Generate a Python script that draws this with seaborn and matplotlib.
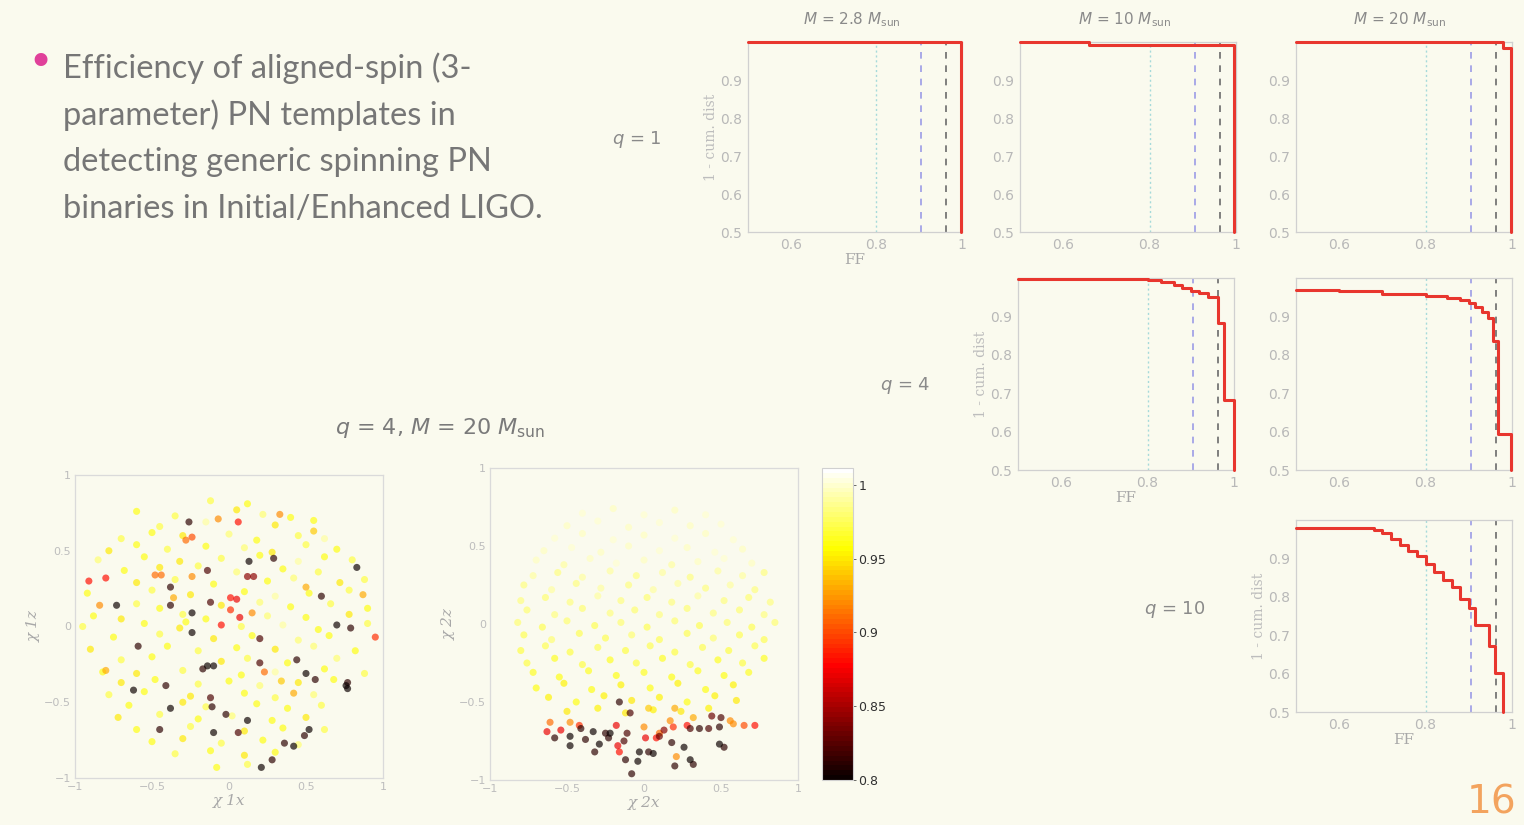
import numpy as np
import pandas as pd
import matplotlib
matplotlib.use("Agg")
import matplotlib.pyplot as plt
import seaborn as sns
from matplotlib.colors import Normalize
from matplotlib.cm import ScalarMappable

# ------------------------------------------------------------------ data
bullet_lines = ["Efficiency of aligned-spin (3-",
                "parameter) PN templates in",
                "detecting generic spinning PN",
                "binaries in Initial/Enhanced LIGO."]
mass_titles = [r"$M$ = 2.8 $M_{\mathrm{sun}}$", r"$M$ = 10 $M_{\mathrm{sun}}$", r"$M$ = 20 $M_{\mathrm{sun}}$"]
q_labels = [r"$q$ = 1", r"$q$ = 4", r"$q$ = 10"]
scatter_title = r"$q$ = 4, $M$ = 20 $M_{\mathrm{sun}}$"

ff_ticks = [0.6, 0.8, 1.0]
ff_tick_labels = ["0.6", "0.8", "1"]
cd_ticks = [0.5, 0.6, 0.7, 0.8, 0.9]
cd_tick_labels = ["0.5", "0.6", "0.7", "0.8", "0.9"]
ref_ff = [0.8, 0.905, 0.962]

# FF vs 1 - cumulative distribution (step curves)
ff_q1_m28 = [0.5, 0.997, 0.997]
cd_q1_m28 = [1.0, 0.5, 0.5]
ff_q1_m10 = [0.5, 0.66, 0.996, 0.996]
cd_q1_m10 = [1.0, 0.993, 0.5, 0.5]
ff_q1_m20 = [0.5, 0.979, 0.998, 0.998]
cd_q1_m20 = [1.0, 0.985, 0.5, 0.5]
ff_q4_m10 = [0.5, 0.80, 0.83, 0.86, 0.88, 0.90, 0.92, 0.94, 0.962, 0.978, 0.999, 0.999]
cd_q4_m10 = [0.998, 0.995, 0.99, 0.983, 0.975, 0.967, 0.96, 0.95, 0.883, 0.683, 0.5, 0.5]
ff_q4_m20 = [0.5, 0.6, 0.7, 0.8, 0.85, 0.88, 0.9, 0.915, 0.93, 0.945, 0.955, 0.968, 0.997, 0.997]
cd_q4_m20 = [0.97, 0.965, 0.958, 0.952, 0.947, 0.942, 0.935, 0.925, 0.912, 0.895, 0.835, 0.595, 0.5, 0.5]
ff_q10_m20 = [0.5, 0.68, 0.70, 0.72, 0.74, 0.76, 0.78, 0.80, 0.82, 0.84, 0.86, 0.88, 0.90, 0.915,
              0.946, 0.96, 0.98, 0.98]
cd_q10_m20 = [0.98, 0.975, 0.965, 0.95, 0.935, 0.92, 0.905, 0.885, 0.865, 0.845, 0.825, 0.795, 0.77,
              0.727, 0.671, 0.602, 0.5, 0.5]

# left scatter: chi_1x vs chi_1z, coloured by FF
left_yel_x = [-0.12, 0.12,
              -0.60, -0.35, 0.05, 0.22, 0.40,
              -0.45, -0.15, 0.30, 0.55,
              -0.70, -0.50, -0.30, 0.00, 0.18, 0.45, 0.62,
              -0.78, -0.60, -0.40, -0.15, 0.10, 0.28, 0.50, 0.70,
              -0.85, -0.55, -0.32, -0.05, 0.20, 0.45, 0.62, 0.80,
              -0.68, -0.45, -0.20, 0.05, 0.35, 0.58,
              -0.60, -0.35, -0.10, 0.25, 0.42, 0.72, 0.88,
              -0.92, -0.50, -0.25, 0.10, 0.30, 0.52, 0.78,
              -0.60, -0.45, -0.05, 0.20, 0.40, 0.66, 0.90,
              -0.88, -0.70, -0.30, -0.15, 0.25, 0.50, 0.78,
              -0.95, -0.55, -0.32, -0.28, 0.08, 0.35, 0.58, 0.90,
              -0.75, -0.45, -0.10, 0.15, 0.45, 0.65,
              -0.90, -0.40, -0.20, 0.05, 0.30, 0.55, 0.82,
              -0.70, -0.50, -0.05, 0.12, 0.38, 0.70,
              -0.82, -0.60, -0.30, 0.08, 0.30, 0.62, 0.88,
              -0.70, -0.48, -0.20, 0.00, 0.20, 0.45, 0.68,
              -0.78, -0.55, -0.25, 0.10, 0.30, 0.55,
              -0.65, -0.30, -0.15, 0.18, 0.38, 0.60,
              -0.72, -0.45, -0.20, 0.02, 0.28, 0.50,
              -0.60, -0.25, 0.10, 0.35, 0.62,
              -0.50, -0.30, -0.05, 0.22, 0.45,
              -0.35, -0.12, 0.10, 0.30,
              -0.08, 0.12]
left_yel_y = [0.83, 0.81,
              0.76, 0.73, 0.77, 0.74, 0.72,
              0.66, 0.69, 0.67, 0.70,
              0.58, 0.62, 0.60, 0.61, 0.57, 0.60, 0.58,
              0.50, 0.54, 0.51, 0.53, 0.52, 0.49, 0.54, 0.51,
              0.44, 0.46, 0.43, 0.45, 0.47, 0.43, 0.46, 0.44,
              0.37, 0.39, 0.40, 0.36, 0.38, 0.36,
              0.29, 0.31, 0.28, 0.30, 0.32, 0.29, 0.31,
              0.22, 0.24, 0.21, 0.23, 0.20, 0.22, 0.24,
              0.15, 0.12, 0.14, 0.16, 0.13, 0.15, 0.12,
              0.07, 0.05, 0.08, 0.05, 0.07, 0.06, 0.08,
              0.00, 0.02, -0.01, 0.03, 0.00, 0.01, -0.02, 0.02,
              -0.07, -0.05, -0.08, -0.06, -0.09, -0.06,
              -0.15, -0.13, -0.16, -0.14, -0.15, -0.13, -0.16,
              -0.22, -0.20, -0.23, -0.21, -0.24, -0.21,
              -0.30, -0.31, -0.29, -0.32, -0.30, -0.28, -0.31,
              -0.37, -0.35, -0.38, -0.36, -0.39, -0.37, -0.35,
              -0.45, -0.43, -0.46, -0.44, -0.47, -0.45,
              -0.52, -0.50, -0.53, -0.51, -0.54, -0.52,
              -0.60, -0.58, -0.61, -0.59, -0.62, -0.60,
              -0.68, -0.66, -0.69, -0.67, -0.68,
              -0.76, -0.74, -0.77, -0.75, -0.78,
              -0.84, -0.82, -0.85, -0.83,
              -0.93, -0.91]
left_yel_v = [0.97, 0.96,
              0.96, 0.97, 0.95, 0.98, 0.96,
              0.97, 0.99, 0.95, 0.96,
              0.97, 0.96, 0.95, 0.98, 0.96, 0.97, 0.99,
              0.95, 0.96, 0.97, 0.96, 0.98, 0.95, 0.97, 0.96,
              0.98, 0.96, 0.95, 0.97, 0.96, 0.99, 0.96, 0.97,
              0.96, 0.95, 0.97, 0.98, 0.96, 0.97,
              0.95, 0.97, 0.96, 0.96, 0.98, 0.95, 0.97,
              0.96, 0.97, 0.95, 0.96, 0.99, 0.96, 0.97,
              0.97, 0.96, 0.95, 0.98, 0.96, 0.97, 0.96,
              0.96, 0.95, 0.97, 0.96, 0.98, 0.96, 0.95,
              0.97, 0.96, 0.95, 0.96, 0.97, 0.99, 0.96, 0.97,
              0.96, 0.97, 0.95, 0.96, 0.98, 0.96,
              0.95, 0.96, 0.97, 0.96, 0.95, 0.98, 0.96,
              0.97, 0.96, 0.95, 0.97, 0.96, 0.98,
              0.96, 0.95, 0.97, 0.96, 0.99, 0.96, 0.97,
              0.95, 0.96, 0.97, 0.96, 0.98, 0.95, 0.96,
              0.97, 0.96, 0.95, 0.96, 0.97, 0.98,
              0.96, 0.95, 0.97, 0.96, 0.96, 0.97,
              0.95, 0.97, 0.96, 0.98, 0.96, 0.95,
              0.96, 0.97, 0.95, 0.96, 0.97,
              0.96, 0.95, 0.97, 0.96, 0.98,
              0.97, 0.96, 0.95, 0.96,
              0.96, 0.97]
left_red_x = [-0.91, -0.80, -0.48, -0.44, -0.84, -0.28, -0.24, -0.07, 0.06, 0.33, 0.01, 0.05, 0.01,
              0.07, 0.15, -0.05, 0.95, 0.87, 0.50, 0.23, -0.80, 0.42, 0.34, 0.55, -0.36, -0.24]
left_red_y = [0.30, 0.32, 0.34, 0.34, 0.14, 0.57, 0.59, 0.71, 0.69, 0.74, 0.19, 0.18, 0.11,
              0.06, 0.09, 0.01, -0.07, 0.21, 0.26, -0.30, -0.29, -0.44, -0.36, 0.63, 0.19, 0.33]
left_red_v = [0.88, 0.88, 0.91, 0.91, 0.92, 0.91, 0.90, 0.92, 0.88, 0.92, 0.88, 0.87, 0.89,
              0.87, 0.92, 0.88, 0.89, 0.93, 0.93, 0.91, 0.93, 0.93, 0.94, 0.94, 0.93, 0.92]
left_dark_x = [-0.26, 0.13, 0.29, 0.83, -0.14, -0.38, -0.73, -0.38, -0.12, -0.24, 0.60, 0.70, 0.79,
               -0.24, 0.20, -0.59, -0.14, -0.17, -0.10, 0.20, 0.44, 0.50, 0.56, 0.76, 0.77, 0.77,
               -0.41, -0.62, -0.12, -0.11, -0.38, -0.02, 0.12, -0.45, -0.10, 0.06, 0.49, 0.52,
               0.36, 0.42, 0.28, 0.21, 0.12, 0.16]
left_dark_y = [0.69, 0.43, 0.45, 0.39, 0.37, 0.26, 0.14, 0.14, 0.16, 0.09, 0.20, 0.01, -0.01,
               -0.04, -0.08, -0.13, -0.26, -0.28, -0.26, -0.24, -0.22, -0.31, -0.35, -0.39, -0.37,
               -0.41, -0.39, -0.42, -0.47, -0.53, -0.54, -0.58, -0.62, -0.68, -0.70, -0.70, -0.72,
               -0.68, -0.77, -0.79, -0.88, -0.93, 0.33, 0.33]
left_dark_v = [0.81, 0.80, 0.81, 0.80, 0.82, 0.81, 0.80, 0.81, 0.82, 0.80, 0.81, 0.80, 0.81,
               0.80, 0.82, 0.81, 0.80, 0.81, 0.80, 0.82, 0.81, 0.80, 0.81, 0.80, 0.81, 0.80,
               0.81, 0.80, 0.82, 0.81, 0.80, 0.81, 0.80, 0.81, 0.80, 0.82, 0.81, 0.80,
               0.81, 0.80, 0.81, 0.80, 0.84, 0.84]

# right scatter: chi_2x vs chi_2z, coloured by FF
right_yel_x = [-0.40, -0.20, 0.00, 0.20, 0.40,
               -0.50, -0.30, -0.10, 0.10, 0.30, 0.50,
               -0.58, -0.40, -0.20, 0.00, 0.20, 0.40, 0.58,
               -0.65, -0.47, -0.28, -0.10, 0.10, 0.28, 0.46, 0.64,
               -0.70, -0.52, -0.35, -0.18, 0.00, 0.18, 0.35, 0.52, 0.70,
               -0.72, -0.56, -0.40, -0.22, -0.05, 0.12, 0.30, 0.48, 0.64, 0.78,
               -0.78, -0.60, -0.44, -0.28, -0.10, 0.06, 0.22, 0.40, 0.56, 0.72,
               -0.80, -0.64, -0.48, -0.30, -0.15, 0.02, 0.18, 0.35, 0.52, 0.68, 0.82,
               -0.76, -0.58, -0.40, -0.22, -0.06, 0.10, 0.28, 0.45, 0.62, 0.78,
               -0.82, -0.66, -0.50, -0.32, -0.15, 0.02, 0.20, 0.36, 0.54, 0.70, 0.85,
               -0.78, -0.60, -0.42, -0.25, -0.08, 0.10, 0.28, 0.45, 0.62, 0.78,
               -0.80, -0.64, -0.48, -0.30, -0.12, 0.04, 0.20, 0.38, 0.55, 0.72,
               -0.76, -0.58, -0.40, -0.22, -0.05, 0.12, 0.30, 0.48, 0.64, 0.78,
               -0.72, -0.55, -0.36, -0.18, 0.00, 0.18, 0.35, 0.52, 0.68,
               -0.70, -0.52, -0.34, -0.15, 0.04, 0.22, 0.40, 0.58,
               -0.62, -0.44, -0.26, -0.08, 0.10, 0.28, 0.46, 0.60,
               -0.50, -0.30, -0.12, 0.06, 0.24, 0.42]
right_yel_y = [0.71, 0.74, 0.70, 0.73, 0.70,
               0.63, 0.66, 0.62, 0.65, 0.63, 0.64,
               0.55, 0.58, 0.54, 0.57, 0.55, 0.58, 0.54,
               0.47, 0.49, 0.46, 0.50, 0.47, 0.49, 0.46, 0.48,
               0.41, 0.38, 0.42, 0.39, 0.41, 0.38, 0.40, 0.42, 0.39,
               0.31, 0.33, 0.30, 0.34, 0.31, 0.33, 0.30, 0.34, 0.31, 0.33,
               0.25, 0.22, 0.26, 0.23, 0.25, 0.22, 0.26, 0.23, 0.25, 0.22,
               0.15, 0.17, 0.14, 0.18, 0.15, 0.17, 0.14, 0.18, 0.15, 0.17, 0.14,
               0.09, 0.06, 0.10, 0.07, 0.09, 0.06, 0.10, 0.07, 0.09, 0.06,
               0.01, -0.02, 0.02, -0.01, 0.01, -0.02, 0.02, -0.01, 0.01, -0.02, 0.01,
               -0.07, -0.10, -0.06, -0.09, -0.07, -0.10, -0.06, -0.09, -0.07, -0.10,
               -0.17, -0.14, -0.18, -0.15, -0.17, -0.14, -0.18, -0.15, -0.17, -0.14,
               -0.25, -0.22, -0.26, -0.23, -0.25, -0.22, -0.26, -0.23, -0.25, -0.22,
               -0.31, -0.34, -0.30, -0.33, -0.31, -0.34, -0.30, -0.33, -0.31,
               -0.41, -0.38, -0.42, -0.39, -0.41, -0.38, -0.42, -0.39,
               -0.47, -0.50, -0.46, -0.49, -0.47, -0.50, -0.46, -0.49,
               -0.56, -0.54, -0.57, -0.55, -0.56, -0.54]
right_yel_v = [1.000, 0.995, 1.000, 0.995, 1.000,
               0.995, 1.000, 0.995, 1.000, 0.995, 1.000,
               1.000, 0.995, 1.000, 0.995, 1.000, 0.995, 1.000,
               0.995, 1.000, 0.995, 0.995, 1.000, 0.995, 1.000, 0.995,
               0.995, 0.990, 0.995, 1.000, 0.995, 0.990, 0.995, 1.000, 0.995,
               0.990, 0.985, 0.990, 0.990, 0.985, 0.990, 0.985, 0.990, 0.990, 0.985,
               0.985, 0.990, 0.985, 0.990, 0.985, 0.990, 0.990, 0.985, 0.990, 0.985,
               0.985, 0.980, 0.985, 0.990, 0.985, 0.980, 0.985, 0.990, 0.985, 0.980, 0.985,
               0.980, 0.985, 0.980, 0.985, 0.980, 0.985, 0.980, 0.985, 0.980, 0.985,
               0.980, 0.975, 0.980, 0.975, 0.980, 0.975, 0.980, 0.975, 0.980, 0.975, 0.980,
               0.975, 0.980, 0.975, 0.975, 0.980, 0.975, 0.975, 0.980, 0.975, 0.975,
               0.970, 0.975, 0.970, 0.975, 0.970, 0.975, 0.970, 0.975, 0.970, 0.975,
               0.970, 0.965, 0.970, 0.965, 0.970, 0.965, 0.970, 0.965, 0.970, 0.965,
               0.965, 0.960, 0.965, 0.960, 0.965, 0.960, 0.965, 0.960, 0.965,
               0.960, 0.955, 0.960, 0.955, 0.960, 0.955, 0.960, 0.955,
               0.955, 0.960, 0.955, 0.950, 0.955, 0.960, 0.955, 0.950,
               0.950, 0.955, 0.950, 0.955, 0.950, 0.955]
right_red_x = [-0.63, -0.54, -0.61, -0.42, -0.18, 0.00, 0.01, 0.08, 0.10, 0.19, 0.28, 0.56, 0.58,
               0.65, 0.72, 0.17, 0.32, -0.17, -0.48, 0.03, 0.20, 0.21, -0.16]
right_red_y = [-0.69, -0.68, -0.63, -0.65, -0.65, -0.66, -0.73, -0.73, -0.70, -0.66, -0.65, -0.62,
               -0.64, -0.65, -0.65, -0.62, -0.60, -0.78, -0.63, -0.54, -0.54, -0.85, -0.82]
right_red_v = [0.87, 0.87, 0.91, 0.89, 0.87, 0.92, 0.87, 0.88, 0.91, 0.89, 0.88, 0.92, 0.92,
               0.90, 0.88, 0.92, 0.93, 0.87, 0.92, 0.94, 0.93, 0.92, 0.88]
right_dark_x = [-0.16, -0.09, -0.41, -0.33, -0.25, -0.22, -0.11, -0.58, -0.48, -0.38, -0.29, -0.23,
                -0.48, -0.13, -0.32, -0.03, 0.03, 0.06, -0.12, -0.04, -0.08, 0.10, 0.18, 0.26,
                0.20, 0.30, 0.32, 0.49, 0.52, 0.30, 0.36, 0.42, 0.49, 0.44, 0.50, 0.13]
right_dark_y = [-0.50, -0.57, -0.67, -0.69, -0.70, -0.70, -0.70, -0.73, -0.72, -0.74, -0.77, -0.73,
                -0.78, -0.75, -0.82, -0.82, -0.82, -0.83, -0.87, -0.88, -0.96, -0.72, -0.76, -0.79,
                -0.91, -0.87, -0.90, -0.77, -0.79, -0.67, -0.67, -0.67, -0.66, -0.59, -0.60, -0.68]
right_dark_v = [0.81, 0.82, 0.81, 0.80, 0.81, 0.80, 0.82, 0.81, 0.80, 0.81, 0.80, 0.81,
                0.80, 0.82, 0.81, 0.80, 0.81, 0.80, 0.81, 0.80, 0.81, 0.83, 0.81, 0.80,
                0.81, 0.80, 0.81, 0.80, 0.81, 0.82, 0.81, 0.82, 0.81, 0.83, 0.82, 0.84]

spin_ticks = [-1, -0.5, 0, 0.5, 1]
spin_tick_labels = ["\u22121", "\u22120.5", "0", "0.5", "1"]
cbar_ticks = [0.8, 0.85, 0.9, 0.95, 1.0]
cbar_tick_labels = ["0.8", "0.85", "0.9", "0.95", "1"]
ff_range = (0.8, 1.0115)

# ------------------------------------------------------------------ style
BG = "#FAFAEE"
sns.set_theme(style="white", rc={"figure.facecolor": BG, "axes.facecolor": BG,
                                 "savefig.facecolor": BG})
plt.rcParams["font.family"] = ["DejaVu Sans"]
plt.rcParams["mathtext.fontset"] = "dejavusans"

W, H = 1524, 825
fig = plt.figure(figsize=(W / 100, H / 100), dpi=100)


def add_ax(l, t, r, b):
    return fig.add_axes([l / W, 1 - b / H, (r - l) / W, (b - t) / H])


SPINE = "#D0D0D0"
TICKC = "#B8B8B8"
RED = "#E8362E"
SERIF = ["DejaVu Serif"]

# ------------------------------------------------------------------ text
fig.text(40 / W, 1 - 64 / H, "\u2022", color="#E0409A", fontsize=32, ha="center", va="center")
for i, line in enumerate(bullet_lines):
    fig.text(63 / W, 1 - (68 + 47 * i) / H, line, color="#767676", fontsize=23.5,
             family=["Lato", "DejaVu Sans"], ha="left", va="center")

for xc, t in zip([852, 1125, 1400], mass_titles):
    fig.text(xc / W, 1 - 20 / H, t, color="#8A8A8A", fontsize=11, ha="center", va="center")
for (xc, yc), t in zip([(637, 140), (905, 385), (1175, 610)], q_labels):
    fig.text(xc / W, 1 - yc / H, t, color="#8A8A8A", fontsize=13, ha="center", va="center")
fig.text(440 / W, 1 - 428 / H, scatter_title, color="#7A7A7A", fontsize=16, ha="center", va="center")
fig.text(1492 / W, 1 - 803 / H, "16", color="#F3A35E", fontsize=28, ha="center", va="center")

# ------------------------------------------------------------------ CDF panels
panels = [
    ((748, 42, 962, 232), ff_q1_m28, cd_q1_m28, True, True),
    ((1020, 42, 1236, 232), ff_q1_m10, cd_q1_m10, False, False),
    ((1296, 42, 1512, 232), ff_q1_m20, cd_q1_m20, False, False),
    ((1018, 278, 1234, 470), ff_q4_m10, cd_q4_m10, True, True),
    ((1296, 278, 1512, 470), ff_q4_m20, cd_q4_m20, False, False),
    ((1296, 520, 1512, 712), ff_q10_m20, cd_q10_m20, True, True),
]
for box, ff, cd, ylab, xlab in panels:
    ax = add_ax(*box)
    ax.set_facecolor("none")
    ax.axvline(ref_ff[0], color="#A6DADA", ls=(0, (1.5, 2)), lw=1.0, zorder=1)
    ax.axvline(ref_ff[1], color="#9C9CE6", ls=(0, (4, 4)), lw=1.2, zorder=1)
    ax.axvline(ref_ff[2], color="#6A6A6A", ls=(0, (4, 4)), lw=1.2, zorder=1)
    df = pd.DataFrame({"FF": ff, "cd": cd})
    sns.lineplot(data=df, x="FF", y="cd", ax=ax, estimator=None, sort=False,
                 drawstyle="steps-post", color=RED, lw=2.2, clip_on=False, zorder=3)
    ax.set_xlim(0.5, 1.0)
    ax.set_ylim(0.5, 1.0)
    ax.set_xticks(ff_ticks)
    ax.set_xticklabels(ff_tick_labels)
    ax.set_yticks(cd_ticks)
    ax.set_yticklabels(cd_tick_labels)
    ax.tick_params(colors=TICKC, labelsize=10, length=2, width=0.6, direction="in", pad=4)
    for s in ax.spines.values():
        s.set_color(SPINE)
        s.set_linewidth(0.9)
    ax.set_xlabel("FF" if xlab else "", family=SERIF, color="#A8A8A8", fontsize=11, labelpad=1)
    ax.set_ylabel("1 - cum. dist" if ylab else "", family=SERIF, color="#BDBDBD", fontsize=10,
                  labelpad=2)

# ------------------------------------------------------------------ scatter panels
cmap = plt.get_cmap("hot", 64)


def spin_df(xs, ys, vs):
    d = pd.DataFrame({"x": xs, "y": ys, "FF": vs})
    return d.sort_values("FF", ascending=False, kind="stable")


left_df = spin_df(left_yel_x + left_red_x + left_dark_x,
                  left_yel_y + left_red_y + left_dark_y,
                  left_yel_v + left_red_v + left_dark_v)
right_df = spin_df(right_yel_x + right_red_x + right_dark_x,
                   right_yel_y + right_red_y + right_dark_y,
                   right_yel_v + right_red_v + right_dark_v)

for box, df, xl, yl in [((75, 475, 383, 778), left_df, "\u03c7 1x", "\u03c7 1z"),
                        ((490, 468, 798, 780), right_df, "\u03c7 2x", "\u03c7 2z")]:
    ax = add_ax(*box)
    ax.set_facecolor("none")
    sns.scatterplot(data=df, x="x", y="y", hue="FF", palette=cmap, hue_norm=ff_range,
                    s=26, linewidth=0, alpha=0.68, legend=False, ax=ax)
    ax.set_xlim(-1, 1)
    ax.set_ylim(-1, 1)
    ax.set_xticks(spin_ticks)
    ax.set_xticklabels(spin_tick_labels)
    ax.set_yticks(spin_ticks)
    ax.set_yticklabels(spin_tick_labels)
    ax.tick_params(colors="#BDBDBD", labelsize=8, length=2, width=0.6, direction="in", pad=3)
    for s in ax.spines.values():
        s.set_color("#DADADA")
        s.set_linewidth(0.9)
    ax.set_xlabel(xl, family=SERIF, style="italic", color="#A8A8A8", fontsize=11, labelpad=1)
    ax.set_ylabel(yl, family=SERIF, style="italic", color="#A8A8A8", fontsize=11, labelpad=2)

cax = add_ax(822, 468, 853, 780)
cb = fig.colorbar(ScalarMappable(norm=Normalize(*ff_range), cmap=cmap), cax=cax, ticks=cbar_ticks)
cb.ax.set_yticklabels(cbar_tick_labels)
cb.ax.tick_params(labelsize=9, colors="#303030", length=2, width=0.5, pad=2)
cb.outline.set_edgecolor("#D0D0D0")
cb.outline.set_linewidth(0.8)

fig.savefig("out.png", dpi=100, facecolor=BG)
